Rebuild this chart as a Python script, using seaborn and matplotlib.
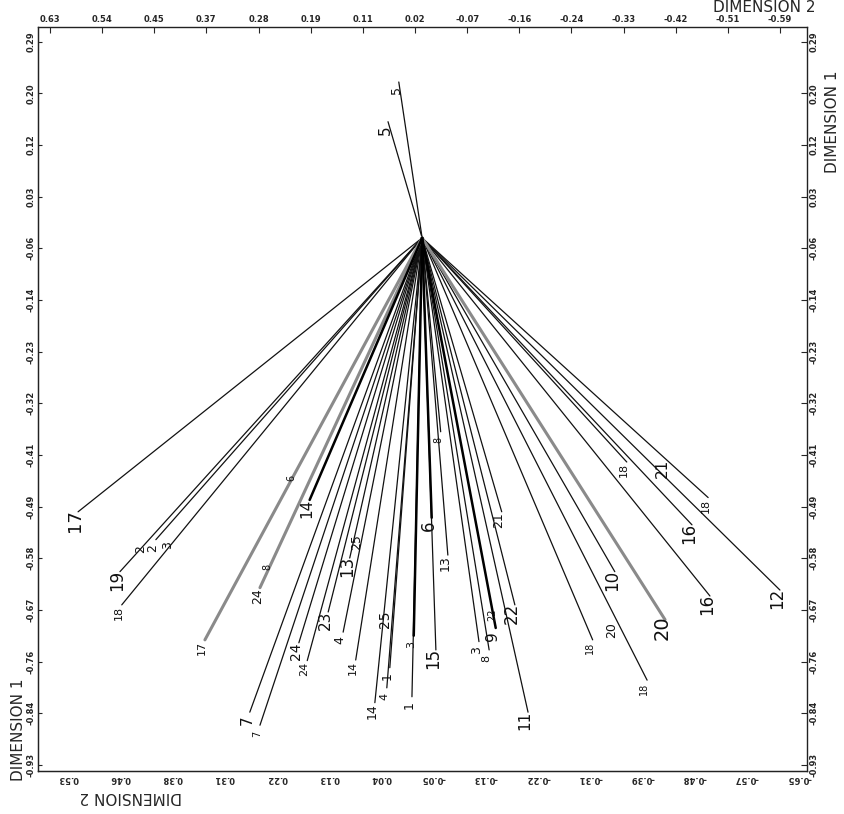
import numpy as np
import pandas as pd
import matplotlib
matplotlib.use("Agg")
import matplotlib.pyplot as plt
import seaborn as sns

sns.set_style("white")
plt.rcParams["font.family"] = ["DejaVu Sans"]

# ---- data (Dimension 2 = x, Dimension 1 = y) ----
root_x, root_y = 0.008, -0.041

leaf_labels = ["17", "19", "18", "2", "17", "24", "14", "7", "7", "24", "24", "23",
               "4", "13", "14", "14", "4", "1", "3", "1", "6", "15", "8", "13",
               "21", "3", "8", "9", "22", "11", "18", "18", "16", "12", "10", "20",
               "16", "18", "18", "5", "5"]
leaf_x = [0.583, 0.513, 0.510, 0.453, 0.371, 0.279, 0.196, 0.296, 0.279, 0.214, 0.200, 0.165,
          0.140, 0.129, 0.119, 0.087, 0.067, 0.062, 0.022, 0.025, -0.008, -0.015, -0.023, -0.035,
          -0.125, -0.087, -0.104, -0.115, -0.147, -0.169, -0.334, -0.470, -0.443, -0.590, -0.314, -0.398,
          -0.473, -0.277, -0.368, 0.047, 0.065]
leaf_y = [-0.503, -0.604, -0.660, -0.550, -0.719, -0.631, -0.483, -0.841, -0.863, -0.724, -0.754, -0.672,
          -0.706, -0.581, -0.753, -0.825, -0.800, -0.766, -0.712, -0.815, -0.513, -0.736, -0.368, -0.576,
          -0.503, -0.722, -0.736, -0.699, -0.660, -0.841, -0.419, -0.479, -0.525, -0.635, -0.604, -0.685,
          -0.645, -0.719, -0.787, 0.222, 0.155]
leaf_tone = ["thin", "thin", "thin", "thin", "gray", "gray", "thick", "thin", "thin", "thin", "thin", "thin",
             "thin", "thin", "thin", "thin", "thin", "thin", "thick", "thin", "thick", "thin", "thin", "thin",
             "thin", "thin", "thin", "thick", "thin", "thin", "thin", "thin", "thin", "thin", "thin", "gray",
             "thin", "thin", "thin", "thin", "thin"]

mid_labels = ["2", "3", "6", "8", "25", "25", "22", "21", "20"]
mid_x = [0.478, 0.433, 0.227, 0.267, 0.117, 0.070, -0.110, -0.394, -0.309]
mid_y = [-0.566, -0.559, -0.446, -0.596, -0.554, -0.685, -0.677, -0.429, -0.702]

top_labels = ["0.63", "0.54", "0.45", "0.37", "0.28", "0.19", "0.11", "0.02",
              "-0.07", "-0.16", "-0.24", "-0.33", "-0.42", "-0.51", "-0.59"]
bottom_labels = ["0.53", "0.46", "0.38", "0.31", "0.22", "0.13", "0.04", "-0.05",
                 "-0.13", "-0.22", "-0.31", "-0.39", "-0.48", "-0.57", "-0.65"]
side_labels = ["0.29", "0.20", "0.12", "0.03", "-0.06", "-0.14", "-0.23", "-0.32",
               "-0.41", "-0.49", "-0.58", "-0.67", "-0.76", "-0.84", "-0.93"]

# ---- styles (font sizes of labels) ----
leaf_fs = [13, 12, 8, 9, 8, 9, 11, 11, 7, 10, 8, 11,
           9, 12, 8, 9, 8, 9, 8, 9, 12, 12, 7, 9,
           9, 9, 8, 11, 12, 11, 8, 8, 12, 12, 12, 14,
           12, 7, 7, 9, 11]
mid_fs = [9, 9, 7, 7, 9, 10, 7, 11, 9]

# ---- segments table ----
rows = []
for i, (x, y, t) in enumerate(zip(leaf_x, leaf_y, leaf_tone)):
    rows.append({"seg": i, "x": root_x, "y": root_y, "tone": t})
    rows.append({"seg": i, "x": x, "y": y, "tone": t})
df = pd.DataFrame(rows)

fig = plt.figure(figsize=(8.44, 8.14), dpi=100)
ax = fig.add_axes([0.045, 0.053, 0.911, 0.914])

sns.lineplot(data=df, x="x", y="y", units="seg", estimator=None, sort=False,
             hue="tone", size="tone",
             palette={"thin": "#111111", "thick": "#000000", "gray": "#8a8a8a"},
             sizes={"thin": 0.9, "thick": 1.8, "gray": 2.2},
             legend=False, ax=ax)

for lab, x, y, fs in zip(leaf_labels, leaf_x, leaf_y, leaf_fs):
    ax.annotate(lab, (x, y), xytext=(-2, -6), textcoords="offset points",
                rotation=90, ha="center", va="center", fontsize=fs, color="#111111")
for lab, x, y, fs in zip(mid_labels, mid_x, mid_y, mid_fs):
    ax.text(x, y, lab, rotation=90, ha="center", va="center", fontsize=fs, color="#111111")

ax.set_xlim(0.650, -0.635)
ax.set_ylim(-0.940, 0.315)
ax.set_xlabel("")
ax.set_ylabel("")

# top axis
ax.xaxis.tick_top()
ax.set_xticks(np.linspace(0.63, -0.59, 15), top_labels, fontsize=6, fontweight="bold")
# right axis
ax.yaxis.tick_right()
ax.set_yticks(np.linspace(0.29, -0.93, 15), side_labels, fontsize=6, fontweight="bold",
              rotation=90, va="center")
ax.tick_params(direction="in", length=4, width=0.8, pad=2)

# bottom axis (upside down)
secx = ax.secondary_xaxis("bottom")
secx.set_xticks(np.linspace(0.600, -0.622, 15), bottom_labels, fontsize=6, fontweight="bold",
                rotation=180)
secx.tick_params(direction="in", length=0, pad=2)
# left axis
secy = ax.secondary_yaxis("left")
secy.set_yticks(np.linspace(0.29, -0.93, 15), side_labels, fontsize=6, fontweight="bold",
                rotation=90, va="center")
secy.tick_params(direction="in", length=3, pad=2)

for s in ax.spines.values():
    s.set_linewidth(1.0)
    s.set_color("#222222")

fig.text(0.905, 0.991, "DIMENSION 2", fontsize=11, ha="center", va="center")
fig.text(0.986, 0.85, "DIMENSION 1", fontsize=11, ha="center", va="center", rotation=90)
fig.text(0.022, 0.103, "DIMENSION 1", fontsize=11, ha="center", va="center", rotation=90)
fig.text(0.155, 0.021, "DIMENSION 2", fontsize=11, ha="center", va="center", rotation=180)

fig.savefig("out.png", dpi=100)
